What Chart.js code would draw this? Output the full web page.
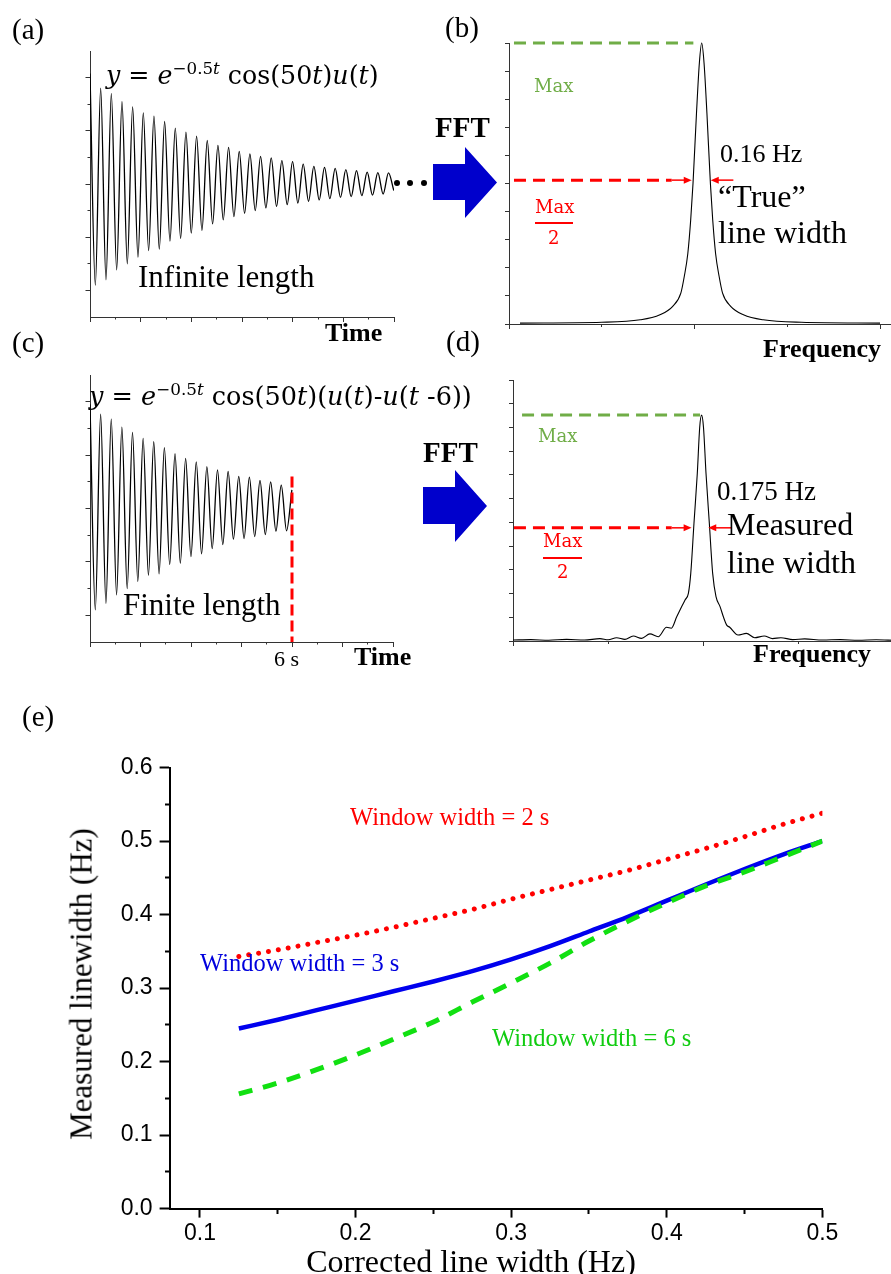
<!DOCTYPE html>
<html>
<head>
<meta charset="utf-8">
<title>FFT line width</title>
<script src="https://cdn.jsdelivr.net/npm/chart.js@4.4.1/dist/chart.umd.min.js"></script>
<style>
  html, body { margin:0; padding:0; background:#fff; }
  #page { position:relative; width:891px; height:1274px; overflow:hidden; }
  canvas { position:absolute; left:0; top:0; }
  .t { position:absolute; white-space:nowrap; line-height:1; transform:translateY(-50%);
       font-family:'Liberation Serif','Times New Roman',serif; color:#000; }
  .b { font-weight:bold; }
  .m { font-family:'DejaVu Serif',serif; }
  .m sup { font-size:0.66em; vertical-align:0.62em; line-height:0; }
  .cm { font-family:'DejaVu Serif',serif; font-size:18px; }
  .bar { position:absolute; height:2px; background:#ff0000; }
  .fft { position:absolute; background:#0000cc; }
  .dot { position:absolute; width:6px; height:6px; border-radius:50%; background:#000; }
</style>
</head>
<body>
<div id="page">
  <canvas id="cA" width="891" height="1274"></canvas>
  <canvas id="cB" width="891" height="1274"></canvas>
  <canvas id="cC" width="891" height="1274"></canvas>
  <canvas id="cD" width="920" height="1274"></canvas>
  <canvas id="cE" width="891" height="1274"></canvas>

  <!-- panel letters -->
  <div class="t" style="left:12px;top:29px;font-size:29px">(a)</div>
  <div class="t" style="left:445px;top:27px;font-size:29px">(b)</div>
  <div class="t" style="left:12px;top:342px;font-size:29px">(c)</div>
  <div class="t" style="left:446px;top:341px;font-size:29px">(d)</div>
  <div class="t" style="left:22px;top:716px;font-size:29px">(e)</div>

  <!-- (a) -->
  <div class="t m" style="left:106px;top:76px;font-size:25.3px"><i>y</i> = <i>e</i><sup>−0.5<i>t</i></sup> cos(50<i>t</i>)<i>u</i>(<i>t</i>)</div>
  <div class="t" style="left:138px;top:276px;font-size:31px">Infinite length</div>
  <div class="t b" style="left:325px;top:333px;font-size:26px">Time</div>
  <div class="dot" style="left:394px;top:180px"></div>
  <div class="dot" style="left:407px;top:180px"></div>
  <div class="dot" style="left:421px;top:180px"></div>

  <!-- FFT arrows -->
  <div class="t b" style="left:435px;top:127px;font-size:29px">FFT</div>
  <div class="fft" style="left:433px;top:147px;width:64px;height:71px;clip-path:polygon(0 17px,32px 17px,32px 0,64px 35.5px,32px 71px,32px 53px,0 53px)"></div>
  <div class="t b" style="left:423px;top:452px;font-size:29px">FFT</div>
  <div class="fft" style="left:423px;top:470px;width:64px;height:72px;clip-path:polygon(0 17px,32px 17px,32px 0,64px 36px,32px 72px,32px 54px,0 54px)"></div>

  <!-- (b) -->
  <div class="t cm" style="left:534px;top:86px;color:#70ad47">Max</div>
  <div class="t cm" style="left:535px;top:207px;color:#ff0000">Max</div>
  <div class="bar" style="left:535px;top:222px;width:38px"></div>
  <div class="t cm" style="left:548px;top:238px;color:#ff0000">2</div>
  <div class="t" style="left:720px;top:154px;font-size:26px">0.16 Hz</div>
  <div class="t" style="left:718px;top:196px;font-size:32px">“True”</div>
  <div class="t" style="left:718px;top:232px;font-size:32px">line width</div>
  <div class="t b" style="left:763px;top:349px;font-size:26px">Frequency</div>

  <!-- (c) -->
  <div class="t m" style="left:89px;top:397px;font-size:25.5px"><i>y</i> = <i>e</i><sup>−0.5<i>t</i></sup> cos(50<i>t</i>)(<i>u</i>(<i>t</i>)-<i>u</i>(<i>t</i> -6))</div>
  <div class="t" style="left:123px;top:604px;font-size:31px">Finite length</div>
  <div class="t" style="left:274px;top:659px;font-size:22px">6 s</div>
  <div class="t b" style="left:354px;top:657px;font-size:26px">Time</div>

  <!-- (d) -->
  <div class="t cm" style="left:538px;top:436px;color:#70ad47">Max</div>
  <div class="t cm" style="left:543px;top:541px;color:#ff0000">Max</div>
  <div class="bar" style="left:543px;top:557px;width:39px"></div>
  <div class="t cm" style="left:557px;top:572px;color:#ff0000">2</div>
  <div class="t" style="left:717px;top:491px;font-size:27px">0.175 Hz</div>
  <div class="t" style="left:727px;top:524px;font-size:32px">Measured</div>
  <div class="t" style="left:727px;top:562px;font-size:32px">line width</div>
  <div class="t b" style="left:753px;top:654px;font-size:26px">Frequency</div>

  <!-- (e) -->
  <div class="t" style="left:350px;top:817px;font-size:24.5px;color:#ff0000">Window width = 2 s</div>
  <div class="t" style="left:200px;top:963px;font-size:24.5px;color:#0000dd">Window width = 3 s</div>
  <div class="t" style="left:492px;top:1038px;font-size:24.5px;color:#11cc11">Window width = 6 s</div>
  <div class="t" style="left:81px;top:984px;font-size:31px;transform:translate(-50%,-50%) rotate(-90deg)">Measured linewidth (Hz)</div>
  <div class="t" style="left:471px;top:1261px;font-size:32px;transform:translate(-50%,-50%)">Corrected line width (Hz)</div>
</div>

<script>
'use strict';

// ---- (a)/(c) decaying cosine: successive crest/trough values
const waveStep = 0.1578;   // s between one extreme and the next
const waveInfinite = [0.83,-0.76,0.72,-0.72,0.68,-0.645,0.62,-0.60,0.58,-0.55,0.535,-0.50,0.51,-0.49,0.47,-0.43,
  0.42,-0.41,0.39,-0.37,0.36,-0.35,0.327,-0.30,0.29,-0.27,0.275,-0.245,0.246,-0.22,0.226,-0.20,0.208,-0.18,
  0.196,-0.168,0.176,-0.155,0.168,-0.143,0.15,-0.13,0.133,-0.12,0.125,-0.11,0.118,-0.10,0.108,-0.095,0.10,
  -0.088,0.09,-0.083,0.085,-0.075,0.083,-0.05];
const waveFinite = [0.78,-0.76,0.706,-0.71,0.67,-0.646,0.61,-0.60,0.57,-0.546,0.526,-0.50,0.50,-0.49,0.456,-0.42,
  0.41,-0.41,0.376,-0.36,0.35,-0.34,0.314,-0.30,0.29,-0.27,0.277,-0.23,0.24,-0.225,0.235,-0.21,0.21,-0.195,
  0.20,-0.17,0.175,-0.167,0.14];
const cutTime = 6;          // s, end of the finite window
const cutTop = 0.24;
const timeMajor = [0, 1.5, 3, 4.5, 6, 7.5, 9];
const timeMinor = [0.75, 2.25, 3.75, 5.25, 6.75, 8.25];
const ampMajor = [0.8, 0.4, 0, -0.4, -0.8];
const ampMinor = [0.6, 0.2, -0.2, -0.6];

// ---- (b) spectrum of the infinite signal (Lorentzian)
const lorentzHz  = [6.395, 7.10, 7.432, 7.602, 7.712, 7.782, 7.812, 7.842, 7.867, 7.887, 7.917, 7.942, 7.962,
  7.982, 8.007, 8.037, 8.057, 8.082, 8.112, 8.142, 8.212, 8.322, 8.492, 8.822, 9.50];
const lorentzAmp = [0.003, 0.006, 0.015, 0.033, 0.063, 0.11, 0.17, 0.25, 0.37, 0.50, 0.75, 0.93, 1.00,
  0.93, 0.75, 0.50, 0.37, 0.25, 0.17, 0.11, 0.063, 0.033, 0.015, 0.006, 0.003];
const maxLineB = [6.343, 7.89];       // Hz span of green "Max" line, at 1.0
const halfLineB = [6.343, 7.703];     // dashed red at half max
const halfMaxB = 0.512;
const arrowsB = [[7.703, 7.876], [8.235, 8.04]];

// ---- (d) spectrum of the 6 s window
const finiteHz  = [6.30, 6.45, 6.60, 6.75, 6.90, 7.03, 7.10, 7.17, 7.24, 7.31, 7.38, 7.45, 7.52, 7.59, 7.63,
  7.675, 7.717, 7.745, 7.773, 7.793, 7.820, 7.848, 7.868, 7.884, 7.900, 7.921, 7.949, 7.977, 8.005, 8.039,
  8.067, 8.095, 8.12, 8.19, 8.26, 8.33, 8.41, 8.48, 8.55, 8.65, 8.75, 8.90, 9.05, 9.20, 9.35, 9.50];
const finiteAmp = [0.004, 0.006, 0.003, 0.007, 0.004, 0.010, 0.005, 0.014, 0.007, 0.021, 0.011, 0.030, 0.018,
  0.058, 0.054, 0.102, 0.145, 0.173, 0.201, 0.285, 0.496, 0.707, 0.90, 0.952, 0.90, 0.707, 0.496, 0.285,
  0.187, 0.145, 0.102, 0.067, 0.058, 0.025, 0.032, 0.014, 0.021, 0.010, 0.014, 0.006, 0.009, 0.004, 0.006,
  0.003, 0.005, 0.003];
const maxLineD = [6.376, 7.871];
const maxD = 0.952;
const halfLineD = [6.308, 7.633];
const halfMaxD = 0.477;
const arrowsD = [[7.633, 7.80], [8.137, 7.94]];
const freqMajor = [6.3, 7.9, 9.5];
const freqMinor = [7.1, 8.7];
const specTicksB = [0, 0.1, 0.2, 0.3, 0.4, 0.5, 0.6, 0.7, 0.8, 0.9, 1.0];
const specTicksD = [0, 0.1, 0.2, 0.3, 0.4, 0.5, 0.6, 0.7, 0.8, 0.9, 1.0, 1.1];

// ---- (e) measured vs corrected line width
const corrected  = [0.125, 0.15, 0.175, 0.2, 0.225, 0.25, 0.275, 0.3, 0.325, 0.35, 0.375, 0.4, 0.425, 0.45, 0.475, 0.5];
const measured2s = [0.343, 0.352, 0.362, 0.372, 0.383, 0.395, 0.407, 0.421, 0.434, 0.447, 0.460, 0.475, 0.490, 0.506, 0.523, 0.538];
const measured3s = [0.245, 0.257, 0.270, 0.283, 0.296, 0.309, 0.323, 0.339, 0.357, 0.377, 0.397, 0.419, 0.441, 0.462, 0.482, 0.500];
const measured6s = [0.156, 0.171, 0.189, 0.209, 0.231, 0.254, 0.281, 0.307, 0.334, 0.364, 0.391, 0.416, 0.439, 0.458, 0.479, 0.500];
const widthMajor = [0.1, 0.2, 0.3, 0.4, 0.5];
const widthMinor = [0.15, 0.25, 0.35, 0.45];
const lwMajor = [0, 0.1, 0.2, 0.3, 0.4, 0.5, 0.6];
const lwMinor = [0.05, 0.15, 0.25, 0.35, 0.45, 0.55];

const pts = (xs, ys) => xs.map((x, i) => ({ x, y: ys[i] }));
const wave = vals => vals.map((v, k) => ({ x: k * waveStep, y: v }));
const ticksFrom = vals => s => { s.ticks = vals.map(v => ({ value: v })); };

function mainAxis(dir, min, max, vals, len, size, o = {}) {
  return {
    type:'linear', axis:dir, position: dir === 'x' ? 'bottom' : 'left', min, max,
    afterBuildTicks: ticksFrom(vals),
    afterFit: s => { if (dir === 'x') s.height = size; else s.width = size; },
    border:{ color:o.color || '#333', width:o.lw || 1 },
    grid:{ drawOnChartArea:false, tickLength:len, tickColor:o.color || '#333', tickWidth:o.lw || 1 },
    ticks: o.ticks || { display:false },
  };
}
function minorAxis(dir, min, max, vals, len, at, o = {}) {
  return {
    type:'linear', axis:dir, position: dir === 'x' ? { y:at } : { x:at }, min, max,
    afterBuildTicks: ticksFrom(vals),
    border:{ display:false },
    grid:{ drawOnChartArea:false, tickLength:len, tickColor:o.color || '#333', tickWidth:o.lw || 1 },
    ticks:{ display:false },
  };
}
function trace(data, color, width, dash, smooth, extra) {
  return Object.assign({ data, borderColor:color, borderWidth:width, borderDash:dash || [], pointRadius:0,
    fill:false, tension:0, cubicInterpolationMode: smooth ? 'monotone' : 'default' }, extra || {});
}

// little red arrows marking the half-maximum width
const arrowSpecs = { cB: { y: halfMaxB, list: arrowsB }, cD: { y: halfMaxD, list: arrowsD } };
const halfArrows = {
  id:'halfArrows',
  afterDatasetsDraw(chart) {
    const spec = arrowSpecs[chart.canvas.id];
    if (!spec) return;
    const { ctx } = chart, sx = chart.scales.x, sy = chart.scales.y;
    const py = sy.getPixelForValue(spec.y);
    spec.list.forEach(([from, to]) => {
      const x0 = sx.getPixelForValue(from), x1 = sx.getPixelForValue(to), d = Math.sign(x1 - x0);
      ctx.save();
      ctx.strokeStyle = ctx.fillStyle = '#ff0000';
      ctx.lineWidth = 1.5;
      ctx.beginPath(); ctx.moveTo(x0, py); ctx.lineTo(x1 - d * 6, py); ctx.stroke();
      ctx.beginPath(); ctx.moveTo(x1, py); ctx.lineTo(x1 - d * 8, py - 3.5); ctx.lineTo(x1 - d * 8, py + 3.5);
      ctx.closePath(); ctx.fill();
      ctx.restore();
    });
  }
};

function panel(id, box, scales, datasets) {
  const cv = document.getElementById(id);
  return new Chart(cv, {
    type:'line',
    data:{ datasets },
    options:{
      responsive:false, animation:false, devicePixelRatio:1, events:[],
      layout:{ padding:{ left:box.l - box.wy, top:box.t, right:cv.width - box.r, bottom:cv.height - box.b - box.hx } },
      plugins:{ legend:{ display:false }, tooltip:{ enabled:false } },
      scales,
    },
    plugins:[halfArrows],
  });
}

const timeScales = () => ({
  x: mainAxis('x', 0, 9, timeMajor, 5, 10),
  y: mainAxis('y', -1, 1, ampMajor, 4.5, 10),
  xm: minorAxis('x', 0, 9, timeMinor, 2.5, -1),
  ym: minorAxis('y', -1, 1, ampMinor, 2.5, 0),
});
const noClip = { clip:false };

// (a)
panel('cA', { l:90, r:394, t:51, b:317, wy:10, hx:10 }, timeScales(), [
  trace(wave(waveInfinite), '#000', 1.3, null, true),
]);

// (b)
panel('cB', { l:509, r:890, t:43, b:324, wy:10, hx:10 }, {
  x: mainAxis('x', 6.3, 9.586, freqMajor, 5, 10),
  y: mainAxis('y', 0, 1, specTicksB, 4, 10),
  xm: minorAxis('x', 6.3, 9.586, freqMinor, 3, 0),
}, [
  trace(pts(lorentzHz, lorentzAmp), '#000', 1.1, null, true, noClip),
  trace(pts(maxLineB, [1, 1]), '#70ad47', 3, [12, 7], false, noClip),
  trace(pts(halfLineB, [halfMaxB, halfMaxB]), '#ff0000', 3, [12, 7]),
]);

// (c)
panel('cC', { l:90, r:393, t:375, b:642, wy:10, hx:10 }, timeScales(), [
  trace([{ x:cutTime, y:cutTop }, { x:cutTime, y:-1 }], '#ff0000', 3, [11, 5]),
  trace(wave(waveFinite), '#000', 1.3, null, true),
]);

// (d)
panel('cD', { l:513, r:894, t:380, b:641, wy:10, hx:10 }, {
  x: mainAxis('x', 6.3, 9.5, freqMajor, 5, 10),
  y: mainAxis('y', 0, 1.1, specTicksD, 4, 10),
  xm: minorAxis('x', 6.3, 9.5, freqMinor, 3, 0),
}, [
  trace(pts(finiteHz, finiteAmp), '#000', 1.1, null, true),
  trace(pts(maxLineD, [maxD, maxD]), '#70ad47', 3, [12, 7]),
  trace(pts(halfLineD, [halfMaxD, halfMaxD]), '#ff0000', 3, [12, 7]),
]);

// (e)
const tickFont = { family:"'Liberation Sans', Arial, sans-serif", size:23 };
panel('cE', { l:169.6, r:822.4, t:767.6, b:1208.6, wy:60, hx:40 }, {
  x: mainAxis('x', 0.0805, 0.5, widthMajor, 9, 40, { color:'#000', lw:2,
     ticks:{ display:true, color:'#000', font:tickFont, padding:2, maxRotation:0, callback:v => v.toFixed(1) } }),
  y: mainAxis('y', 0, 0.6, lwMajor, 10, 60, { color:'#000', lw:2,
     ticks:{ display:true, color:'#000', font:tickFont, padding:7, callback:v => v.toFixed(1) } }),
  xm: minorAxis('x', 0.0805, 0.5, widthMinor, 5, 0, { color:'#000', lw:2 }),
  ym: minorAxis('y', 0, 0.6, lwMinor, 5, 0.0805, { color:'#000', lw:2 }),
}, [
  trace(pts(corrected, measured6s), '#11e011', 5, [14, 11], true),
  trace(pts(corrected, measured3s), '#0000ee', 4.5, null, true),
  trace(pts(corrected, measured2s), '#ff0000', 5, [0.01, 10], true, { borderCapStyle:'round' }),
]);
</script>
</body>
</html>
